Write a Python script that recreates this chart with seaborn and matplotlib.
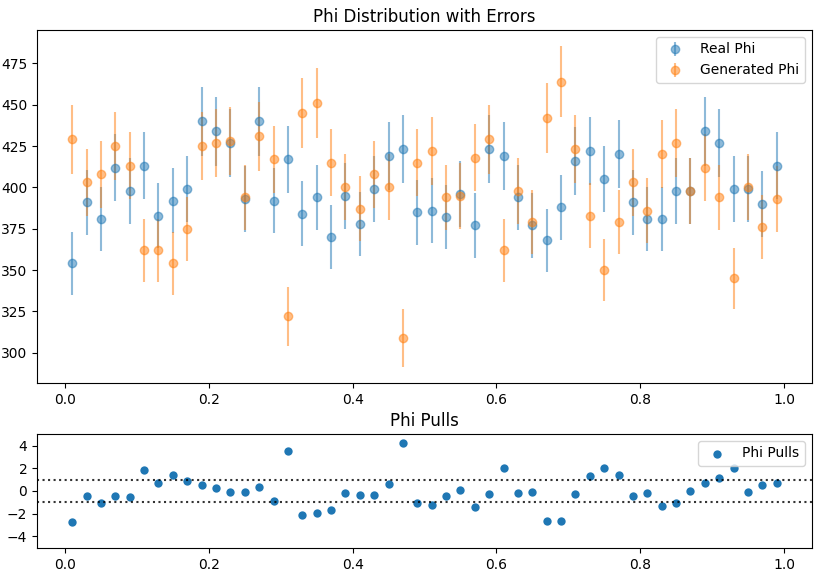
import numpy as np
import pandas as pd
import matplotlib
matplotlib.use("Agg")
import matplotlib.pyplot as plt
import seaborn as sns

bin_centers = [0.01, 0.03, 0.05, 0.07, 0.09, 0.11, 0.13, 0.15, 0.17, 0.19,
               0.21, 0.23, 0.25, 0.27, 0.29, 0.31, 0.33, 0.35, 0.37, 0.39,
               0.41, 0.43, 0.45, 0.47, 0.49, 0.51, 0.53, 0.55, 0.57, 0.59,
               0.61, 0.63, 0.65, 0.67, 0.69, 0.71, 0.73, 0.75, 0.77, 0.79,
               0.81, 0.83, 0.85, 0.87, 0.89, 0.91, 0.93, 0.95, 0.97, 0.99]

real_phi = [354, 391, 381, 412, 398, 413, 383, 392, 399, 440,
            434, 427, 393, 440, 392, 417, 384, 394, 370, 395,
            378, 399, 419, 423, 385, 386, 382, 396, 377, 423,
            419, 394, 377, 368, 388, 416, 422, 405, 420, 391,
            381, 381, 398, 398, 434, 427, 399, 399, 390, 413]

real_err = [18.8, 19.8, 19.5, 20.3, 19.9, 20.3, 19.6, 19.8, 20.0, 21.0,
            20.8, 20.7, 19.8, 21.0, 19.8, 20.4, 19.6, 19.8, 19.2, 19.9,
            19.4, 20.0, 20.5, 20.6, 19.6, 19.6, 19.5, 19.9, 19.4, 20.6,
            20.5, 19.8, 19.4, 19.2, 19.7, 20.4, 20.5, 20.1, 20.5, 19.8,
            19.5, 19.5, 19.9, 19.9, 20.8, 20.7, 20.0, 20.0, 19.7, 20.3]

gen_phi = [429, 403, 408, 425, 413, 362, 362, 354, 375, 425,
           427, 428, 394, 431, 417, 322, 445, 451, 415, 400,
           387, 408, 400, 309, 415, 422, 394, 395, 418, 429,
           362, 398, 379, 442, 464, 423, 383, 350, 379, 403,
           386, 420, 427, 398, 412, 394, 345, 400, 376, 393]

gen_err = [20.7, 20.1, 20.2, 20.6, 20.3, 19.0, 19.0, 18.8, 19.4, 20.6,
           20.7, 20.7, 19.8, 20.8, 20.4, 17.9, 21.1, 21.2, 20.4, 20.0,
           19.7, 20.2, 20.0, 17.6, 20.4, 20.5, 19.8, 19.9, 20.4, 20.7,
           19.0, 19.9, 19.5, 21.0, 21.5, 20.6, 19.6, 18.7, 19.5, 20.1,
           19.6, 20.5, 20.7, 19.9, 20.3, 19.8, 18.6, 20.0, 19.4, 19.8]

pulls = [-2.74, -0.46, -1.09, -0.46, -0.54, 1.83, 0.74, 1.43, 0.86, 0.54,
         0.26, -0.06, -0.06, 0.34, -0.86, 3.51, -2.14, -1.94, -1.66, -0.17,
         -0.34, -0.34, 0.63, 4.23, -1.06, -1.23, -0.46, 0.06, -1.46, -0.26,
         2.03, -0.17, -0.06, -2.66, -2.66, -0.26, 1.31, 2.03, 1.43, -0.46,
         -0.17, -1.37, -1.06, 0.03, 0.74, 1.14, 2.03, -0.06, 0.54, 0.74]

pull_ticks = [-4, -2, 0, 2, 4]

df = pd.DataFrame({"x": bin_centers, "pull": pulls})

fig = plt.figure(figsize=(8.15, 5.72), dpi=100)
ax1 = fig.add_axes([0.0454, 0.3304, 0.9509, 0.6172])
ax2 = fig.add_axes([0.0454, 0.0420, 0.9509, 0.1993])

ax1.errorbar(bin_centers, real_phi, yerr=real_err, fmt='o', color='C0',
             alpha=0.5, label='Real Phi')
ax1.errorbar(bin_centers, gen_phi, yerr=gen_err, fmt='o', color='C1',
             alpha=0.5, label='Generated Phi')
ax1.set_title('Phi Distribution with Errors')
ax1.legend(loc='upper right')

sns.scatterplot(data=df, x="x", y="pull", ax=ax2, color='C0', s=36,
                linewidth=0, label='Phi Pulls')
ax2.axhline(1, color='black', linestyle=':', alpha=0.8)
ax2.axhline(-1, color='black', linestyle=':', alpha=0.8)
ax2.set_ylim(-5.05, 5.05)
ax2.set_yticks(pull_ticks)
ax2.set_xlim(ax1.get_xlim())
ax2.set_xlabel('')
ax2.set_ylabel('')
ax2.set_title('Phi Pulls')
ax2.legend(loc='upper right')

fig.savefig('out.png', dpi=100)
